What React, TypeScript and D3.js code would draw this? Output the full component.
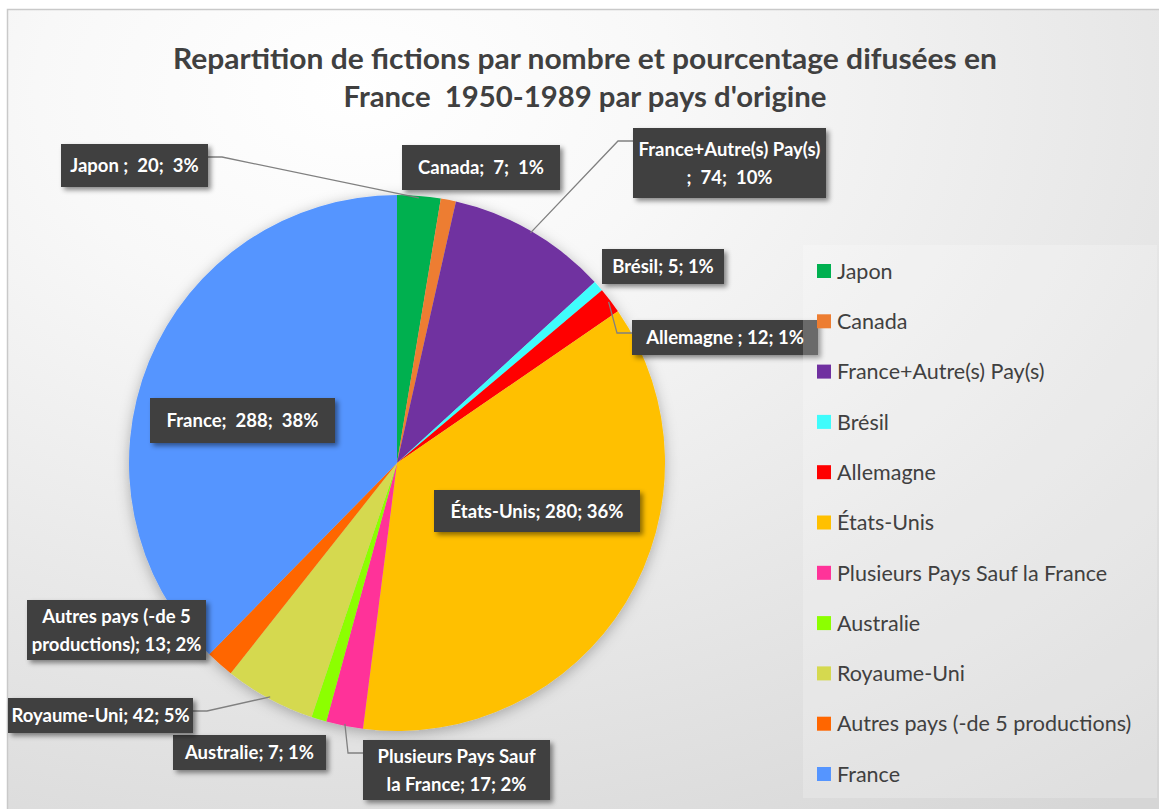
import * as d3 from "d3";

const W = 1159;
const H = 809;

// data
const categories = [
  "Japon",
  "Canada",
  "France+Autre(s) Pay(s)",
  "Brésil",
  "Allemagne",
  "États-Unis",
  "Plusieurs Pays Sauf la France",
  "Australie",
  "Royaume-Uni",
  "Autres pays (-de 5 productions)",
  "France",
];
const values = [20, 7, 74, 5, 12, 280, 17, 7, 42, 13, 288];
// percentages as printed on the labels
const percents = [3, 1, 10, 1, 1, 36, 2, 1, 5, 2, 38];
const colors = [
  "#00b050",
  "#ed7d31",
  "#7030a0",
  "#3ffcfc",
  "#ff0000",
  "#ffc000",
  "#ff3399",
  "#8cff00",
  "#d5d94f",
  "#ff6600",
  "#5595ff",
];
// label text lines (as written in the chart)
const labelLines = [
  [`Japon ;  ${values[0]};  ${percents[0]}%`],
  [`Canada;  ${values[1]};  ${percents[1]}%`],
  ["France+Autre(s) Pay(s)", `;  ${values[2]};  ${percents[2]}%`],
  [`Brésil; ${values[3]}; ${percents[3]}%`],
  [`Allemagne ; ${values[4]}; ${percents[4]}%`],
  [`États-Unis; ${values[5]}; ${percents[5]}%`],
  ["Plusieurs Pays Sauf", `la France; ${values[6]}; ${percents[6]}%`],
  [`Australie; ${values[7]}; ${percents[7]}%`],
  [`Royaume-Uni; ${values[8]}; ${percents[8]}%`],
  ["Autres pays (-de 5", `productions); ${values[9]}; ${percents[9]}%`],
  [`France;  ${values[10]};  ${percents[10]}%`],
];

// layout of the label boxes (x, y, w, h) and leader side
const labelBoxes: { x: number; y: number; w: number; h: number; leader?: "left" | "right" }[] = [
  { x: 61, y: 144, w: 147, h: 43, leader: "right" },
  { x: 402, y: 145, w: 158, h: 45 },
  { x: 633, y: 128, w: 193, h: 70, leader: "left" },
  { x: 602, y: 249, w: 122, h: 35 },
  { x: 632, y: 320, w: 186, h: 35, leader: "left" },
  { x: 434, y: 490, w: 206, h: 42 },
  { x: 363, y: 740, w: 187, h: 60, leader: "left" },
  { x: 173, y: 735, w: 153, h: 35 },
  { x: 8, y: 698, w: 185, h: 35, leader: "right" },
  { x: 27, y: 600, w: 179, h: 60 },
  { x: 150, y: 398, w: 185, h: 45 },
];

const cx = 397;
const cy = 463;
const radius = 268;

export default function App() {
  const pie = d3
    .pie<number>()
    .sort(null)
    .value((d) => d);
  const arcs = pie(values);
  const arc = d3.arc<d3.PieArcDatum<number>>().innerRadius(0).outerRadius(radius);
  const edgeArc = d3
    .arc<d3.PieArcDatum<number>>()
    .innerRadius(radius - 2)
    .outerRadius(radius - 2);

  const font = "Lato, 'Open Sans', sans-serif";

  return (
    <svg
      width={W}
      height={H}
      style={{ position: "absolute", left: 0, top: 0 }}
      fontFamily={font}
    >
      <defs>
        <radialGradient id="bg" cx="0.3" cy="0.1" r="1.1">
          <stop offset="0" stopColor="#ffffff" />
          <stop offset="0.25" stopColor="#f8f8f8" />
          <stop offset="1" stopColor="#d6d6d6" />
        </radialGradient>
        <filter id="pieShadow" x="-20%" y="-20%" width="140%" height="140%">
          <feDropShadow dx="0" dy="3" stdDeviation="7" floodColor="#000" floodOpacity="0.28" />
        </filter>
        <filter id="boxShadow" x="-20%" y="-30%" width="140%" height="160%">
          <feDropShadow dx="3" dy="3" stdDeviation="2.5" floodColor="#000" floodOpacity="0.45" />
        </filter>
      </defs>

      <rect x={0} y={0} width={W} height={H} fill="#ffffff" />
      <rect x={7.5} y={9.5} width={W} height={H} fill="url(#bg)" stroke="#c9c9c9" strokeWidth={1.5} />

      {/* Title */}
      <g fontWeight="bold" fontSize={29} fill="#404040" textAnchor="middle">
        <text x={585} y={69} textLength={824} lengthAdjust="spacingAndGlyphs">
          Repartition de fictions par nombre et pourcentage difusées en
        </text>
        <text
          x={585}
          y={107}
          textLength={483}
          lengthAdjust="spacingAndGlyphs"
          style={{ whiteSpace: "pre" }}
        >
          {"France  1950-1989 par pays d'origine"}
        </text>
      </g>

      {/* Pie */}
      <g transform={`translate(${cx},${cy})`} filter="url(#pieShadow)">
        {arcs.map((d, i) => (
          <path key={categories[i]} d={arc(d) ?? ""} fill={colors[i]} />
        ))}
      </g>

      {/* Leader lines */}
      <g fill="none" stroke="#808080" strokeWidth={1.3}>
        {arcs.map((d, i) => {
          const b = labelBoxes[i];
          if (!b.leader) return null;
          const [ex, ey] = edgeArc.centroid(d);
          const px = cx + ex;
          const py = cy + ey;
          const sy = b.y + Math.min(b.h / 2, 13);
          const bx = b.leader === "right" ? b.x + b.w : b.x;
          const stub = b.leader === "right" ? bx + 14 : bx - 15;
          return (
            <path
              key={categories[i]}
              d={`M${bx},${sy}L${stub},${sy}L${px},${py}`}
            />
          );
        })}
      </g>

      {/* Labels */}
      {labelBoxes.map((b, i) => {
        const lines = labelLines[i];
        const lh = 28;
        const midY = b.y + b.h / 2;
        return (
          <g key={categories[i]}>
            <rect
              x={b.x}
              y={b.y}
              width={b.w}
              height={b.h}
              fill="#404040"
              filter="url(#boxShadow)"
            />
            {lines.map((t, j) => (
              <text
                key={j}
                x={b.x + b.w / 2}
                y={midY + (j - (lines.length - 1) / 2) * lh}
                dy="0.36em"
                textAnchor="middle"
                fill="#ffffff"
                fontWeight="bold"
                fontSize={18.5}
                style={{ whiteSpace: "pre" }}
              >
                {t}
              </text>
            ))}
          </g>
        );
      })}

      {/* Legend */}
      <rect x={803} y={245} width={354} height={553} fill="#ffffff" fillOpacity={0.22} />
      <g>
        {categories.map((c, i) => {
          const y = 271 + i * 50.3;
          return (
            <g key={c}>
              <rect x={817} y={y - 7} width={14} height={14} fill={colors[i]} />
              <text x={837} y={y} dy="0.36em" fontSize={21.5} fill="#404040">
                {c}
              </text>
            </g>
          );
        })}
      </g>
    </svg>
  );
}
